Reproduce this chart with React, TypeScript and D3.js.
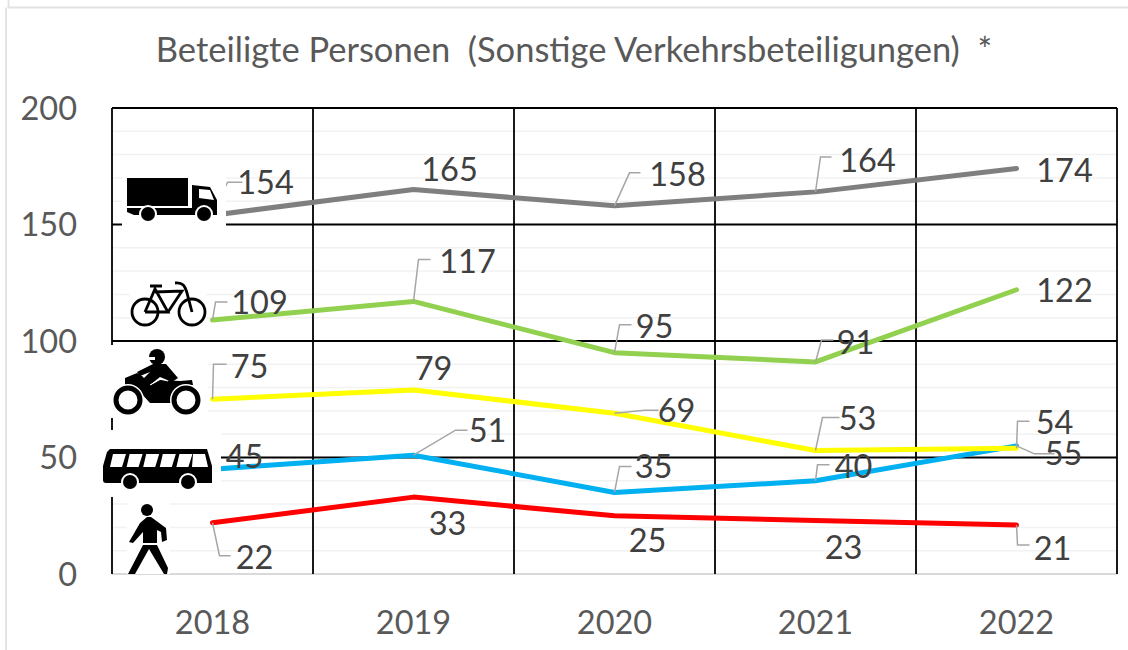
import React from "react";
import * as d3 from "d3";

const years = ["2018", "2019", "2020", "2021", "2022"];
const yTicks = [0, 50, 100, 150, 200];
const minorTicks = d3.range(10, 200, 10);
const title = "Beteiligte Personen  (Sonstige Verkehrsbeteiligungen)  *";

const trucks = [154, 165, 158, 164, 174];
const bikes = [109, 117, 95, 91, 122];
const motorcycles = [75, 79, 69, 53, 54];
const buses = [45, 51, 35, 40, 55];
const pedestrians = [22, 33, 25, 23, 21];

const colors = { trucks: "#7f7f7f", bikes: "#92d050", motorcycles: "#ffff00", buses: "#00b0f0", pedestrians: "#ff0000" };

// label centre offset from its point [dx, dy], and optional leader elbow offset
type L = { dx: number; dy: number; elbow?: [number, number]; end?: number };
const truckLabels: L[] = [
  { dx: 47, dy: -33, elbow: [15, -33], end: 15 },
  { dx: 36, dy: -20 },
  { dx: 63, dy: -32, elbow: [15, -33], end: 11 },
  { dx: 52, dy: -32, elbow: [5, -35], end: 11 },
  { dx: 48, dy: 2 },
];
const bikeLabels: L[] = [
  { dx: 47, dy: -18, elbow: [3, -18], end: 12 },
  { dx: 54, dy: -40, elbow: [5, -42], end: 12 },
  { dx: 40, dy: -26, elbow: [5, -28], end: 12 },
  { dx: 40, dy: -20, elbow: [6, -22], end: 12 },
  { dx: 48, dy: 1 },
];
const motoLabels: L[] = [
  { dx: 37, dy: -33, elbow: [1, -35], end: 13 },
  { dx: 20, dy: -22 },
  { dx: 62, dy: -3, elbow: [30, -3], end: 14 },
  { dx: 42, dy: -32, elbow: [7, -33], end: 17 },
  { dx: 38, dy: -26, elbow: [1, -27], end: 12 },
];
const busLabels: L[] = [
  { dx: 32, dy: -13 },
  { dx: 74, dy: -25, elbow: [42, -25], end: 12 },
  { dx: 39, dy: -26, elbow: [5, -26], end: 12 },
  { dx: 38, dy: -15, elbow: [2, -16], end: 12 },
  { dx: 47, dy: 7, elbow: [18, 8], end: 20 },
];
const pedLabels: L[] = [
  { dx: 42, dy: 35, elbow: [7, 33], end: 11 },
  { dx: 34, dy: 26 },
  { dx: 33, dy: 25 },
  { dx: 28, dy: 27 },
  { dx: 36, dy: 23, elbow: [1, 20], end: 12 },
];

const seriesList = [
  { key: "trucks", values: trucks, labels: truckLabels, color: colors.trucks },
  { key: "bikes", values: bikes, labels: bikeLabels, color: colors.bikes },
  { key: "pedestrians", values: pedestrians, labels: pedLabels, color: colors.pedestrians },
  { key: "buses", values: buses, labels: busLabels, color: colors.buses },
  { key: "motorcycles", values: motorcycles, labels: motoLabels, color: colors.motorcycles },
];

const FONT = "Lato, Carlito, sans-serif";
const x = d3.scaleBand<string>().domain(years).range([112, 1117]);
const y = d3.scaleLinear().domain([0, 200]).range([574, 108]);
const cx = (yr: string) => (x(yr) as number) + x.bandwidth() / 2;
const lineGen = d3.line<number>().x((_, i) => cx(years[i])).y((d) => y(d));

const masks = [
  [122, 168, 104, 59],
  [130, 284, 76, 41],
  [100, 345, 108, 73],
  [103, 430, 118, 67],
  [127, 500, 43, 74],
];

const Wheel = ({ cx, cy, r }: { cx: number; cy: number; r: number }) => (
  <g>
    <circle cx={cx} cy={cy} r={r + 2} fill="#fff" />
    <circle cx={cx} cy={cy} r={r} fill="#000" />
  </g>
);

const Truck = () => (
  <g fill="#000">
    <rect x={127} y={178} width={61} height={28} />
    <path d="M192 185 L210 187 L217 200 L217 215 L192 215 Z M127 208 L217 208 L217 215 L134 215 L127 212 Z" />
    <path d="M199 189 L210 190 L214 200 L199 198 Z" fill="#fff" />
    <Wheel cx={148} cy={214} r={7} />
    <Wheel cx={204} cy={214} r={7} />
  </g>
);
const Bike = () => (
  <g fill="none" stroke="#000" strokeWidth={2.8}>
    <circle cx={145} cy={312} r={13} />
    <circle cx={192} cy={312} r={13} />
    <path d="M145 312 L155 289 L168 312 L145 312 M155 292 L182 291 L168 312 M150 286 L162 286 M175 283 C183 282 185 286 187 293 L192 312" />
  </g>
);
const Moto = () => (
  <g>
    <circle cx={157} cy={357} r={8} />
    <path d="M149 357 L155 357 L155 360 L149 360 Z" fill="#fff" />
    <path d="M153 364 L166 364 L178 378 L172 382 L160 377 L150 385 L143 379 L150 372 L140 376 L137 372 Z" />
    <path d="M125 378 L137 373 L142 376 L151 385 L160 380 L180 381 L192 380 L193 385 L180 387 L172 403 L150 403 L140 392 L125 388 Z" />
    <path d="M150 385 L160 379 L168 381" fill="none" stroke="#fff" strokeWidth={1} />
    <g fill="none" stroke="#fff" strokeWidth={8}>
      <circle cx={128} cy={400} r={12} />
      <circle cx={186} cy={400} r={12} />
    </g>
    <g fill="none" stroke="#000" strokeWidth={5}>
      <circle cx={128} cy={400} r={12} />
      <circle cx={186} cy={400} r={12} />
    </g>
  </g>
);
const Bus = () => (
  <g>
    <path d="M110 449 L207 449 L212 466 L212 483 L106 483 Q103 483 103 480 L103 466 L107 452 Z" />
    {[0, 1, 2, 3, 4].map((i) => (
      <path key={i} d={`M${113 + i * 16.6} 454 L${126 + i * 16.6} 454 L${122 + i * 16.6} 467 L${110 + i * 16.6} 467 Z`} fill="#fff" />
    ))}
    <path d="M193 454 L205 454 L208 467 L192 467 Z" fill="#fff" />
    <Wheel cx={130} cy={482} r={7} />
    <Wheel cx={188} cy={482} r={7} />
  </g>
);
const Walker = () => (
  <g>
    <circle cx={147} cy={510} r={6} />
    <path d="M147 517 L151 517 L166 528 L167 540 L162 542 L161 532 L157 530 L157 543 L143 543 L143 532 L133 543 L129 542 L140 523 Z" />
    <path d="M143 545 L157 545 L168 568 L167 574 L164 574 L149 549 L135 574 L128 574 Z" />
  </g>
);

export default function App() {
  return (
    <svg width={1128} height={650} style={{ position: "fixed", left: 0, top: 0, background: "#fff" }} fontFamily={FONT}>
      {/* outer frame */}
      <path d="M8.5 0 V7.5 H1128 M6 7.5 V650" fill="none" stroke="#e2e2e2" strokeWidth={1.8} />
      <text x={574} y={62} fontSize={34.5} fill="#595959" textAnchor="middle" xmlSpace="preserve" style={{ whiteSpace: "pre" }}>{title}</text>

      {/* minor grid */}
      {minorTicks.filter((t) => t % 50 !== 0).map((t) => (
        <line key={t} x1={112} x2={1117} y1={y(t)} y2={y(t)} stroke="#f2f2f2" strokeWidth={1.5} />
      ))}
      {/* major grid */}
      {yTicks.filter((t) => t > 0).map((t) => (
        <line key={t} x1={112} x2={1117} y1={y(t)} y2={y(t)} stroke="#000" strokeWidth={1.8} />
      ))}
      <line x1={112} x2={1117} y1={y(0)} y2={y(0)} stroke="#d9d9d9" strokeWidth={1.8} />
      {d3.range(0, years.length + 1).map((i) => {
        const px = 112 + i * x.bandwidth();
        return <line key={i} x1={px} x2={px} y1={y(200)} y2={y(0)} stroke="#000" strokeWidth={1.8} />;
      })}

      {/* series */}
      {seriesList.map((s) => (
        <path key={s.key} d={lineGen(s.values) as string} fill="none" stroke={s.color} strokeWidth={5} strokeLinecap="round" strokeLinejoin="round" />
      ))}

      {/* leaders */}
      {seriesList.map((s) =>
        s.labels.map((l, i) =>
          l.elbow ? (
            <path
              key={s.key + i}
              d={`M${cx(years[i])} ${y(s.values[i])} L${cx(years[i]) + l.elbow[0]} ${y(s.values[i]) + l.elbow[1]} h${l.end}`}
              fill="none"
              stroke="#a6a6a6"
              strokeWidth={1.5}
            />
          ) : null
        )
      )}

      {/* icon backgrounds and icons */}
      {masks.map((m, i) => (
        <rect key={i} x={m[0]} y={m[1]} width={m[2]} height={m[3]} fill="#fff" />
      ))}
      <Truck />
      <Bike />
      <Moto />
      <Bus />
      <Walker />

      {/* data labels */}
      {seriesList.map((s) =>
        s.labels.map((l, i) => (
          <text key={s.key + i} x={cx(years[i]) + l.dx + (s.key === "trucks" && i === 0 ? 6 : 0)} y={y(s.values[i]) + l.dy} dy="0.36em" fontSize={32.5} fill="#404040" textAnchor="middle">
            {s.values[i]}
          </text>
        ))
      )}

      {/* axes */}
      {yTicks.map((t) => (
        <text key={t} x={77} y={y(t)} dy="0.36em" fontSize={32.5} fill="#595959" textAnchor="end">{t}</text>
      ))}
      {years.map((yr) => (
        <text key={yr} x={cx(yr)} y={622} dy="0.36em" fontSize={32.5} fill="#595959" textAnchor="middle">{yr}</text>
      ))}
    </svg>
  );
}
